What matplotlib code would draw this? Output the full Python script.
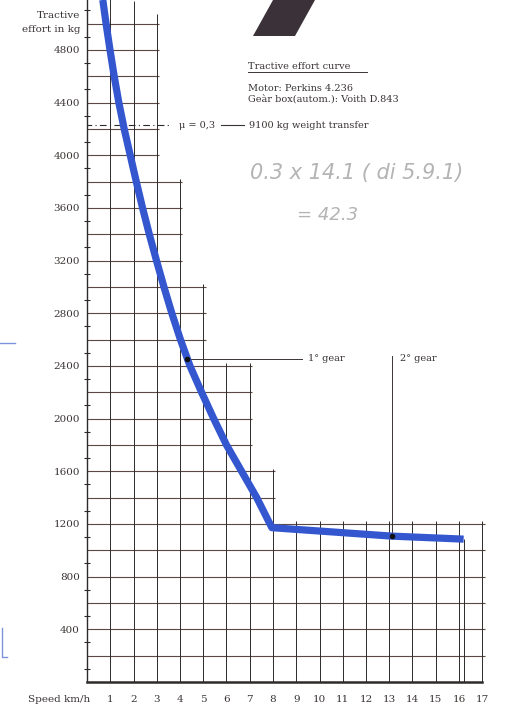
import matplotlib
matplotlib.use("Agg")
import matplotlib.pyplot as plt
from matplotlib.patches import Polygon
from matplotlib.lines import Line2D

# ---- data ----
speed = [0.68, 0.82, 0.99, 1.17, 1.37, 1.60, 1.86, 2.12, 2.39, 2.68, 2.99, 3.31, 3.65,
         4.02, 4.43, 4.93, 5.45, 6.0, 6.65, 7.3, 7.95, 13.1, 16.2]
effort = [5180, 5000, 4800, 4600, 4400, 4200, 4000, 3800, 3600, 3400, 3200, 3000, 2800,
          2600, 2400, 2200, 2000, 1800, 1600, 1400, 1172, 1108, 1085]

x_ticks = list(range(1, 18))
y_ticks = [400, 800, 1200, 1600, 2000, 2400, 2800, 3200, 3600, 4000, 4400, 4800]

# staircase grid: horizontal level -> right end (km/h)
h_levels = [200, 400, 600, 800, 1000, 1200, 1400, 1600, 1800, 2000, 2200, 2400,
            2600, 2800, 3000, 3200, 3400, 3600, 3800, 4000, 4200, 4400, 4600, 4800, 5000]
h_ends = [17, 17, 17, 17, 17, 17, 8, 8, 7, 7, 7, 7, 5, 5, 5, 4, 4, 4, 4, 3, 3, 3, 3, 3, 3]
# vertical line -> top (kg)
v_pos = list(range(1, 18))
v_tops = [5300, 5150, 5050, 3800, 3000, 2400, 2400, 1600,
          1200, 1200, 1200, 1200, 1200, 1200, 1200, 1200, 1200]

mu_level = 4230
mu_end = 3.55
gear1 = (4.3, 2450)
gear1_line_end = 9.25
gear2 = (13.1, 1108)
gear2_line_top = 2475
curve_end = (16.2, 1085)

# ---- figure ----
W, H = 518, 709
fig = plt.figure(figsize=(W / 100, H / 100), dpi=100)
ax_left, ax_bottom = 87, 27
ax = fig.add_axes([ax_left / W, ax_bottom / H, (W - ax_left) / W, (H - ax_bottom) / H])
xmax = (W - ax_left) / 23.25
ymax = (H - ax_bottom) / 0.13167
ax.set_xlim(0, xmax)
ax.set_ylim(0, ymax)
ax.patch.set_alpha(0)

serif = "DejaVu Serif"
txt = "#3a3434"
hcol = "#5b4842"
vcol = "#2e2a2a"

# grid
ax.hlines(h_levels, -0.15, [e + 0.1 for e in h_ends], colors=hcol, lw=0.8, zorder=1)
ax.vlines(v_pos, -25, [t + 20 for t in v_tops], colors=vcol, lw=0.7, zorder=1)
ax.vlines([curve_end[0]], 0, curve_end[1], colors=vcol, lw=0.7, zorder=1)

# spines
for s in ["top", "right"]:
    ax.spines[s].set_visible(False)
ax.spines["left"].set_color(vcol)
ax.spines["left"].set_linewidth(1.0)
ax.spines["bottom"].set_color(vcol)
ax.spines["bottom"].set_linewidth(1.8)
ax.spines["bottom"].set_bounds(0, 17)

ax.set_xticks(x_ticks)
ax.set_xticklabels([str(v) for v in x_ticks], fontfamily=serif, fontsize=7.5, color=txt)
ax.set_yticks(y_ticks)
ax.set_yticklabels([str(v) for v in y_ticks], fontfamily=serif, fontsize=7.5, color=txt)
ax.set_yticks(list(range(100, 5200, 200)), minor=True)
ax.tick_params(axis="x", length=0, pad=9)
ax.tick_params(axis="y", which="major", length=0, pad=5)
ax.tick_params(axis="y", which="minor", length=5, direction="inout", color=vcol, width=0.8)

# curve
ax.plot(speed, effort, color="#3457cf", lw=5.2, solid_capstyle="butt",
        solid_joinstyle="round", zorder=3, clip_on=True)

# mu line
ax.plot([-0.1, mu_end], [mu_level, mu_level], color=vcol, lw=0.8, ls=(0, (6, 3, 1, 3)), zorder=2)
ax.text(3.96, mu_level, "μ = 0,3", fontfamily=serif, fontsize=7, color=txt, va="center", ha="left")
ax.plot([5.77, 6.75], [mu_level, mu_level], color=txt, lw=0.8)
ax.text(6.97, mu_level, "9100 kg weight transfer", fontfamily=serif, fontsize=7, color=txt,
        va="center", ha="left")

# gears
ax.plot([gear1[0], gear1_line_end], [gear1[1], gear1[1]], color=txt, lw=0.7, zorder=2)
ax.plot(*gear1, "o", color="#111", ms=3, zorder=4)
ax.text(9.5, gear1[1] + 5, "1° gear", fontfamily=serif, fontsize=7, color=txt, va="center")
ax.plot([gear2[0], gear2[0]], [gear2[1], gear2_line_top], color=txt, lw=0.7, zorder=2)
ax.plot(*gear2, "o", color="#111", ms=3, zorder=4)
ax.text(13.46, 2460, "2° gear", fontfamily=serif, fontsize=7, color=txt, va="center")

# title block
ax.text(6.92, 4671, "Tractive effort curve", fontfamily=serif, fontsize=7, color=txt, va="center")
ax.plot([6.92, 12.04], [4630, 4630], color=txt, lw=0.7)
ax.text(6.92, 4511, "Motor: Perkins 4.236", fontfamily=serif, fontsize=7, color=txt, va="center")
ax.text(6.92, 4420, "Geàr box(autom.): Voith D.843", fontfamily=serif, fontsize=7, color=txt,
        va="center")

# handwriting
ax.text(7.01, 3866, "0.3 x 14.1 ( di 5.9.1)", fontfamily="DejaVu Sans", fontsize=15,
        fontstyle="italic", fontweight="light", color="#b4b4b4", va="center")
ax.text(9.03, 3547, "= 42.3", fontfamily="DejaVu Sans", fontsize=13,
        fontstyle="italic", fontweight="light", color="#b4b4b4", va="center")

# axis titles
fig.text(80 / W, 1 - 15 / H, "Tractive", fontfamily=serif, fontsize=7.5, color=txt,
         ha="right", va="center")
fig.text(80 / W, 1 - 29 / H, "effort in kg", fontfamily=serif, fontsize=7.5, color=txt,
         ha="right", va="center")
fig.text(28 / W, 1 - 700 / H, "Speed km/h", fontfamily=serif, fontsize=7.5, color=txt,
         ha="left", va="center")

# scan artifacts
fig.patches.append(Polygon([(253 / W, 1 - 36 / H), (295 / W, 1 - 36 / H), (315 / W, 1),
                            (273 / W, 1)], closed=True, transform=fig.transFigure,
                           facecolor="#3b3139", edgecolor="none"))
fig.lines.append(Line2D([0, 15 / W], [1 - 343 / H, 1 - 343 / H], transform=fig.transFigure,
                        color="#7d93dc", lw=1))
fig.lines.append(Line2D([2 / W, 2 / W, 7 / W], [1 - 628 / H, 1 - 657 / H, 1 - 657 / H],
                        transform=fig.transFigure, color="#7d93dc", lw=1))

fig.savefig("out.png", dpi=100)
